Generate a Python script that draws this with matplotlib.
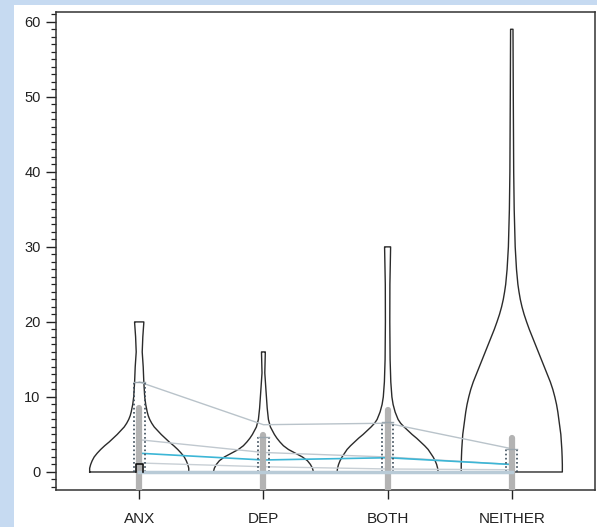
import numpy as np
import matplotlib
matplotlib.use("Agg")
from matplotlib import pyplot as plt
from matplotlib.ticker import MultipleLocator
from matplotlib.patches import Rectangle

groups = ["ANX", "DEP", "BOTH", "NEITHER"]

# density outlines (value, relative half width)
anx_y = [0, 0.5, 1, 1.5, 2, 2.5, 3, 3.5, 4, 4.5, 5, 5.5, 6, 6.5, 7, 7.5, 8, 9, 10, 12, 14, 16, 18, 19.9, 20]
anx_d = [49.5, 49.5, 48.5, 47, 45, 42, 38.5, 34.5, 30, 26, 22, 18.5, 15, 12.5, 10.5, 9, 8, 6.5, 5.5,
         4.6, 4.0, 3.0, 3.6, 4.6, 4.6]
dep_y = [0, 0.5, 1, 1.5, 2, 2.5, 3, 3.5, 4, 4.5, 5, 6, 7, 8.5, 11, 13.2, 15.9, 16]
dep_d = [50, 49, 47, 44, 39, 32, 25, 20, 16.5, 13.5, 11, 7, 5, 3.8, 2.5, 1.4, 1.9, 1.9]
both_y = [0, 0.5, 1, 1.5, 2, 2.5, 3, 3.5, 4, 4.5, 5, 5.5, 6, 6.5, 7, 7.5, 8, 9, 10, 12, 15, 20, 25,
          29.9, 30]
both_d = [50.5, 50, 49, 47.5, 45.5, 43, 40.5, 37, 33, 29, 24.5, 20.5, 16.5, 13, 10.5, 9, 7.5, 5.5,
          4.3, 3.2, 2.5, 2.2, 2.3, 3, 3]
nei_y = [0, 1, 2, 3, 4, 5, 6, 7, 8, 9, 10, 11, 12, 13, 14, 15, 16, 17, 18, 19, 20, 21, 22, 23, 24,
         25, 27, 30, 35, 40, 50, 59]
nei_d = [50.5, 50.5, 50.3, 50, 49.5, 49, 48, 47, 46, 44.7, 43, 41, 38.5, 35.5, 32.5, 29.5, 26.5,
         23.5, 20.5, 17.5, 14.8, 12.3, 10.2, 8.5, 7.2, 6.1, 4.7, 3.4, 2.4, 1.9, 1.5, 1.2]

# summary values per group
bar_top = [8.5, 4.9, 8.3, 4.5]
dot_top = [12.0, 4.7, 6.7, 3.1]
line_hi = [12.0, 6.3, 6.5, 3.1]
line_mid = [4.3, 2.6, 2.0, 1.0]
line_lo = [1.2, 0.7, 0.4, 0.3]
means = [2.5, 1.6, 1.9, 1.0]
medians = [0, 0, 0, 0]
small_box = [1.0, 0, 0, 0]

plt.rcParams['font.family'] = ['Liberation Sans', 'DejaVu Sans']

fig = plt.figure(figsize=(5.97, 5.27), dpi=100, facecolor='#c6daf1')
fig.patches.append(Rectangle((14 / 597, 0), 1, 1 - 5 / 527, transform=fig.transFigure,
                             facecolor='white', edgecolor='none', zorder=-10))
ax = fig.add_axes([56 / 597, 1 - 490 / 527, 539 / 597, 478 / 527])
ax.set_zorder(1)

pos = np.arange(1, 5)
scale = 0.403 / 50  # half width of widest violin in x units
edge = '#2b2b2b'

for p, ys, ds in zip(pos, [anx_y, dep_y, both_y, nei_y], [anx_d, dep_d, both_d, nei_d]):
    ys = np.array(ys)
    w = np.array(ds) * scale
    xs = np.concatenate([p - w, (p + w)[::-1], [p - w[0]]])
    yy = np.concatenate([ys, ys[::-1], [ys[0]]])
    ax.plot(xs, yy, color=edge, lw=1.0, zorder=2)

ax.plot(pos, line_hi, color='#b9c3ca', lw=1.0, zorder=3)
ax.plot(pos, line_mid, color='#c0c8cf', lw=1.0, zorder=3)
ax.plot(pos, line_lo, color='#c8cfd5', lw=1.0, zorder=3)
ax.plot(pos, means, color='#3cb6d6', lw=1.2, zorder=3)

for p, t in zip(pos, bar_top):
    ax.plot([p, p], [-3, t], color='#b3b3b3', lw=4.5, solid_capstyle='round', zorder=4)

hw = 0.044
for p, t in zip(pos, dot_top):
    ax.plot([p - hw, p - hw], [0, t], color='#3a4a58', lw=1.2, ls=(0, (1, 1.5)), zorder=5)
    ax.plot([p + hw, p + hw], [0, t], color='#3a4a58', lw=1.2, ls=(0, (1, 1.5)), zorder=5)
    ax.plot([p - hw, p + hw], [t, t], color='#9aa6ae', lw=1.0, zorder=5)

ax.plot(pos, medians, color='#b9cbd7', lw=2.5, zorder=6)

for p, t in zip(pos, small_box):
    if t > 0:
        ax.plot([p - 0.028, p - 0.028, p + 0.028, p + 0.028], [0, t, t, 0],
                color='#111111', lw=1.2, zorder=7)

ax.set_xlim(0.33, 4.67)
ax.set_ylim(-2.4, 61.3)
ax.set_xticks(pos)
ax.set_xticklabels(groups)
ax.set_yticks(range(0, 61, 10))
ax.yaxis.set_minor_locator(MultipleLocator(1))
ax.tick_params(axis='y', which='major', length=7, width=1.0, pad=4, labelsize=10.5, colors='#222222')
ax.tick_params(axis='y', which='minor', length=3.6, width=0.9, colors='#222222')
ax.tick_params(axis='x', length=6.5, width=1.0, pad=9, labelsize=11, colors='#222222')
for s in ax.spines.values():
    s.set_color('#333333')
    s.set_linewidth(1.1)

fig.savefig('out.png', dpi=100, facecolor=fig.get_facecolor())
